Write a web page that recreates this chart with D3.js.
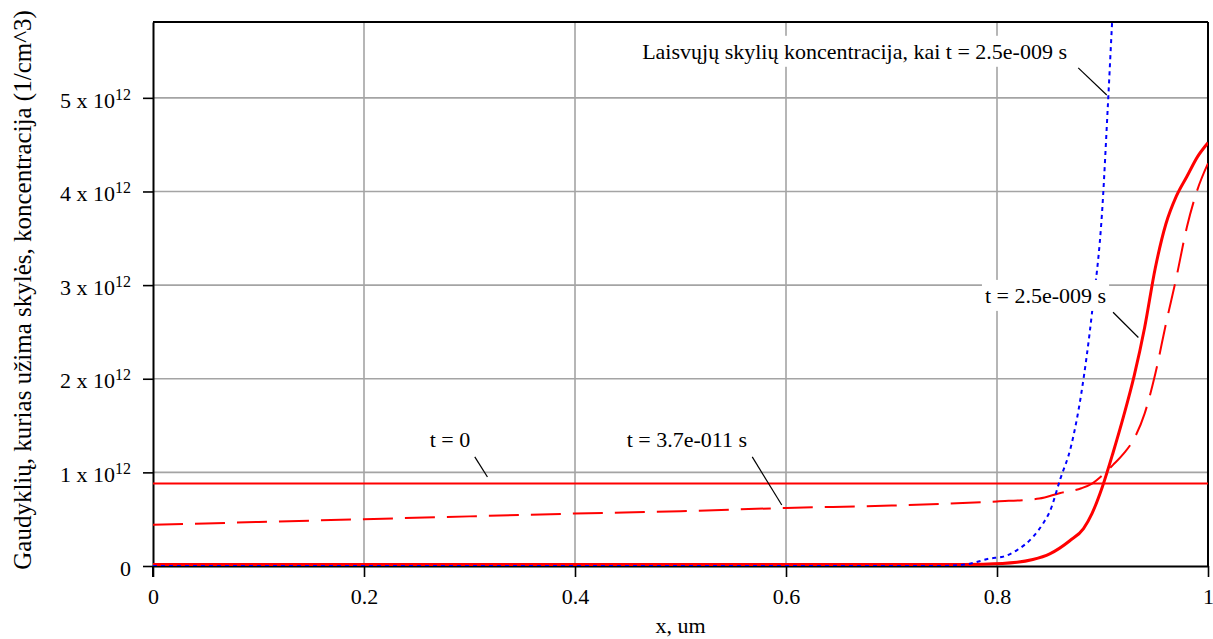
<!DOCTYPE html>
<html>
<head>
<meta charset="utf-8">
<script src="https://cdn.jsdelivr.net/npm/d3@7"></script>
<style>
  html, body { margin: 0; padding: 0; background: #fff; }
  svg { display: block; font-family: "Liberation Serif", "Times New Roman", serif; }
</style>
</head>
<body>
<svg id="chart" width="1213" height="639"></svg>
<script>
// Depth coordinate (um) and concentrations (1/cm^3)
const xTicks = [0, 0.2, 0.4, 0.6, 0.8, 1];
const xTickLabels = ["0", "0.2", "0.4", "0.6", "0.8", "1"];
const yTicks = [0, 1e12, 2e12, 3e12, 4e12, 5e12];
const yTickMantissa = ["0", "1", "2", "3", "4", "5"];
const yExponent = "12";

// Trapped holes, t = 0
const xT0 = [0, 1];
const yT0 = [0.88e12, 0.88e12];

// Trapped holes, t = 3.7e-011 s
const xT1 = [0, 0.1, 0.2, 0.3, 0.4, 0.5, 0.6, 0.7, 0.75, 0.8, 0.84, 0.86, 0.88, 0.89, 0.9, 0.91, 0.92, 0.93, 0.94, 0.95, 0.96, 0.97, 0.98, 0.99, 1.0];
const yT1 = [0.44e12, 0.47e12, 0.50e12, 0.53e12, 0.56e12, 0.585e12, 0.62e12, 0.645e12, 0.665e12, 0.69e12, 0.72e12, 0.78e12, 0.83e12, 0.88e12, 0.97e12, 1.08e12, 1.20e12, 1.36e12, 1.63e12, 2.05e12, 2.58e12, 3.08e12, 3.62e12, 4.02e12, 4.30e12];

// Trapped holes, t = 2.5e-009 s
const xT2 = [0, 0.75, 0.787, 0.819, 0.834, 0.85, 0.869, 0.882, 0.89, 0.9, 0.91, 0.92, 0.93, 0.94, 0.95, 0.96, 0.97, 0.98, 0.99, 1.0];
const yT2 = [0.015e12, 0.015e12, 0.02e12, 0.04e12, 0.07e12, 0.13e12, 0.27e12, 0.40e12, 0.56e12, 0.85e12, 1.21e12, 1.60e12, 2.03e12, 2.55e12, 3.18e12, 3.65e12, 3.95e12, 4.16e12, 4.37e12, 4.52e12];

// Free holes, t = 2.5e-009 s
const xFree = [0, 0.746, 0.772, 0.793, 0.806, 0.819, 0.834, 0.844, 0.85, 0.86, 0.87, 0.88, 0.89, 0.9, 0.905, 0.91, 0.915];
const yFree = [0, 0, 0.02e12, 0.08e12, 0.10e12, 0.17e12, 0.31e12, 0.46e12, 0.58e12, 0.93e12, 1.27e12, 1.85e12, 2.70e12, 3.85e12, 4.90e12, 6.0e12, 7.0e12];

// Callout labels: text anchor and leader line, in data units
const labelTexts = ["Laisvųjų skylių koncentracija, kai t = 2.5e-009 s", "t = 2.5e-009 s", "t = 0", "t = 3.7e-011 s"];
const labelX = [0.665, 0.846, 0.2815, 0.506];
const labelY = [5.417e12, 2.81e12, 1.27e12, 1.27e12];
const leaderX1 = [0.877, 0.910, 0.305, 0.568];
const leaderY1 = [5.32e12, 2.71e12, 1.165e12, 1.165e12];
const leaderX2 = [0.904, 0.934, 0.317, 0.596];
const leaderY2 = [5.03e12, 2.44e12, 0.95e12, 0.652e12];

const plotLeft = 153, plotRight = 1208, plotTop = 22, plotBottom = 566;
const fontSize = 22;

const svg = d3.select("#chart");
const x = d3.scaleLinear().domain([0, 1]).range([plotLeft, plotRight]);
const y = d3.scaleLinear().domain([0, 5.81e12]).range([plotBottom, plotTop]);

// grid
const grid = svg.append("g").attr("stroke", "#a4a4a4").attr("stroke-width", 1.6);
grid.selectAll("line.v").data(xTicks.slice(1, -1)).join("line")
  .attr("x1", d => x(d)).attr("x2", d => x(d)).attr("y1", plotTop).attr("y2", plotBottom);
grid.selectAll("line.h").data(yTicks.slice(1)).join("line")
  .attr("x1", plotLeft).attr("x2", plotRight).attr("y1", d => y(d)).attr("y2", d => y(d));

// frame (top and right)
svg.append("line").attr("x1", plotLeft).attr("x2", plotRight).attr("y1", plotTop).attr("y2", plotTop)
  .attr("stroke", "#000").attr("stroke-width", 2);
svg.append("line").attr("x1", plotRight).attr("x2", plotRight).attr("y1", plotTop).attr("y2", plotBottom)
  .attr("stroke", "#000").attr("stroke-width", 2);

// axes
const xAxis = d3.axisBottom(x).tickValues(xTicks).tickSize(11).tickSizeOuter(0)
  .tickFormat((d, i) => xTickLabels[i]).tickPadding(11);
const gx = svg.append("g").attr("transform", `translate(0,${plotBottom})`).call(xAxis);
gx.select(".domain").attr("stroke", "#000").attr("stroke-width", 2);
gx.selectAll(".tick line").attr("stroke", "#000").attr("stroke-width", 1.6);
gx.selectAll(".tick text").attr("font-size", fontSize).attr("fill", "#000")
  .attr("font-family", "Liberation Serif");

const yAxis = d3.axisLeft(y).tickValues(yTicks).tickSize(10).tickSizeOuter(0)
  .tickFormat(() => "").tickPadding(12);
const gy = svg.append("g").attr("transform", `translate(${plotLeft},0)`).call(yAxis);
gy.select(".domain").attr("stroke", "#000").attr("stroke-width", 2);
gy.selectAll(".tick line").attr("stroke", "#000").attr("stroke-width", 1.6);
gy.selectAll(".tick text").each(function(d, i) {
  const t = d3.select(this).attr("font-size", fontSize).attr("fill", "#000")
    .attr("font-family", "Liberation Serif").attr("dy", "0.42em").text(null);
  if (d === 0) {
    t.append("tspan").text(yTickMantissa[i]);
  } else {
    t.append("tspan").text(yTickMantissa[i] + " x 10");
    t.append("tspan").attr("font-size", 16).attr("dy", "-0.5em").text(yExponent);
  }
});
// extend the left axis down to the bottom tick length
svg.append("line").attr("x1", plotLeft).attr("x2", plotLeft).attr("y1", plotBottom).attr("y2", plotBottom + 11)
  .attr("stroke", "#000").attr("stroke-width", 2);

// axis titles
svg.append("text").attr("x", x(0.5)).attr("y", 633).attr("text-anchor", "middle")
  .attr("font-size", fontSize).text("x, um");
svg.append("text").attr("transform", `translate(31,${290}) rotate(-90)`).attr("text-anchor", "middle")
  .attr("font-size", 25).text("Gaudyklių, kurias užima skylės, koncentracija (1/cm^3)");

// curves
svg.append("clipPath").attr("id", "plot").append("rect")
  .attr("x", plotLeft).attr("y", plotTop).attr("width", plotRight - plotLeft).attr("height", plotBottom - plotTop);
const plot = svg.append("g").attr("clip-path", "url(#plot)");
const line = d3.line().x(d => x(d[0])).y(d => y(d[1])).curve(d3.curveMonotoneX);
const zip = (a, b) => a.map((v, i) => [v, b[i]]);

plot.append("path").datum(zip(xT0, yT0)).attr("d", line)
  .attr("fill", "none").attr("stroke", "#ff0000").attr("stroke-width", 2);
plot.append("path").datum(zip(xT1, yT1)).attr("d", line)
  .attr("fill", "none").attr("stroke", "#ff0000").attr("stroke-width", 2)
  .attr("stroke-dasharray", "30,12");
plot.append("path").datum(zip(xT2, yT2)).attr("d", line)
  .attr("fill", "none").attr("stroke", "#ff0000").attr("stroke-width", 3);
plot.append("path").datum(zip(xFree, yFree)).attr("d", line)
  .attr("fill", "none").attr("stroke", "#0000ff").attr("stroke-width", 2)
  .attr("stroke-dasharray", "4,4");

// callouts
const ann = svg.append("g");
labelTexts.forEach((txt, i) => {
  const g = ann.append("g");
  const rect = g.append("rect").attr("fill", "#fff");
  const t = g.append("text").attr("x", x(labelX[i])).attr("y", y(labelY[i]))
    .attr("text-anchor", "middle").attr("font-size", fontSize).attr("fill", "#000").text(txt);
  const bb = t.node().getBBox();
  rect.attr("x", bb.x - 3).attr("y", bb.y - 3).attr("width", bb.width + 6).attr("height", bb.height + 6);
  g.append("line").attr("x1", x(leaderX1[i])).attr("y1", y(leaderY1[i]))
    .attr("x2", x(leaderX2[i])).attr("y2", y(leaderY2[i]))
    .attr("stroke", "#000").attr("stroke-width", 1.2);
});
</script>
</body>
</html>
